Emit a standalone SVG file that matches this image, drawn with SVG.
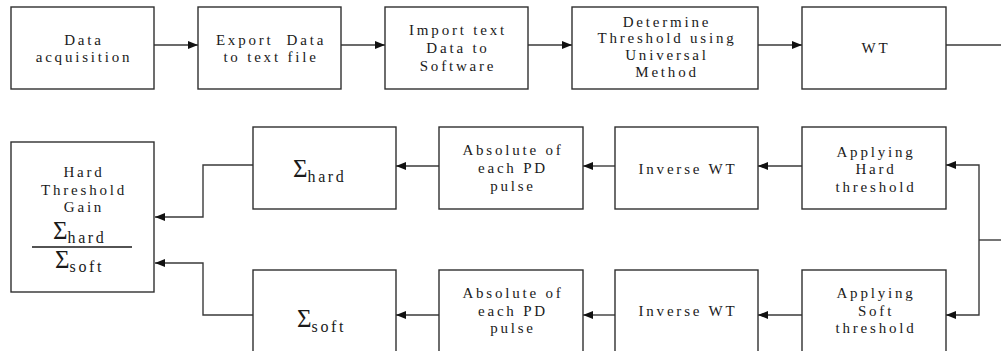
<svg xmlns="http://www.w3.org/2000/svg" width="1001" height="351" viewBox="0 0 1001 351">
  <style>
    .box { fill: #ffffff; stroke: #2f2f2f; stroke-width: 1.4; }
    .lbl { font-family: "Liberation Serif", "Times New Roman", serif; font-size: 15px; letter-spacing: 2.8px; fill: #1a1a1a; text-anchor: middle; white-space: pre; }
    .sig { font-family: "Liberation Serif", "Times New Roman", serif; font-size: 25px; fill: #1a1a1a; }
    .sub { font-family: "Liberation Serif", "Times New Roman", serif; font-size: 16px; letter-spacing: 2.6px; fill: #1a1a1a; }
    .wire { fill: none; stroke: #3a3a3a; stroke-width: 1.4; }
  </style>
  <defs>
    <marker id="arrow" viewBox="0 0 10 8" refX="10" refY="4" markerWidth="10" markerHeight="8" markerUnits="userSpaceOnUse" orient="auto">
      <path d="M0,0 L10,4 L0,8 Z" fill="#111111"/>
    </marker>
  </defs>
  <rect width="1001" height="351" fill="#ffffff"/>

  <!-- connectors -->
  <g id="connectors">
    <line class="wire" x1="154" y1="45" x2="198" y2="45" marker-end="url(#arrow)"/>
    <line class="wire" x1="341" y1="45" x2="385" y2="45" marker-end="url(#arrow)"/>
    <line class="wire" x1="528" y1="45" x2="572" y2="45" marker-end="url(#arrow)"/>
    <line class="wire" x1="758" y1="45" x2="802" y2="45" marker-end="url(#arrow)"/>
    <line class="wire" x1="946" y1="45" x2="1001" y2="45"/>

    <line class="wire" x1="1001" y1="240" x2="979" y2="240"/>
    <polyline class="wire" points="979,240 979,165 946,165" marker-end="url(#arrow)"/>
    <polyline class="wire" points="979,240 979,315 946,315" marker-end="url(#arrow)"/>

    <line class="wire" x1="802" y1="166" x2="758" y2="166" marker-end="url(#arrow)"/>
    <line class="wire" x1="615" y1="166" x2="583" y2="166" marker-end="url(#arrow)"/>
    <line class="wire" x1="439" y1="166" x2="396" y2="166" marker-end="url(#arrow)"/>
    <line class="wire" x1="802" y1="315" x2="758" y2="315" marker-end="url(#arrow)"/>
    <line class="wire" x1="615" y1="315" x2="583" y2="315" marker-end="url(#arrow)"/>
    <line class="wire" x1="439" y1="315" x2="396" y2="315" marker-end="url(#arrow)"/>

    <polyline class="wire" points="253,165 203,165 203,217 155,217" marker-end="url(#arrow)"/>
    <polyline class="wire" points="253,315 203,315 203,263 155,263" marker-end="url(#arrow)"/>
  </g>

  <!-- top row -->
  <g id="data-acquisition">
    <rect class="box" x="11" y="7" width="143" height="82"/>
    <text class="lbl" x="84" y="45">Data</text>
    <text class="lbl" x="84" y="62">acquisition</text>
  </g>
  <g id="export-data">
    <rect class="box" x="198" y="7" width="143" height="82"/>
    <text class="lbl" x="271" y="45">Export  Data</text>
    <text class="lbl" x="271" y="62">to text file</text>
  </g>
  <g id="import-data">
    <rect class="box" x="385" y="7" width="143" height="82"/>
    <text class="lbl" x="458" y="35">Import text</text>
    <text class="lbl" x="458" y="53">Data to</text>
    <text class="lbl" x="458" y="71">Software</text>
  </g>
  <g id="determine-threshold">
    <rect class="box" x="572" y="7" width="186" height="82"/>
    <text class="lbl" x="667" y="27">Determine</text>
    <text class="lbl" x="667" y="43">Threshold using</text>
    <text class="lbl" x="667" y="60">Universal</text>
    <text class="lbl" x="667" y="77">Method</text>
  </g>
  <g id="wt">
    <rect class="box" x="802" y="7" width="144" height="82"/>
    <text class="lbl" x="876" y="53">WT</text>
  </g>

  <!-- hard threshold branch -->
  <g id="apply-hard">
    <rect class="box" x="802" y="127" width="144" height="82"/>
    <text class="lbl" x="876" y="157">Applying</text>
    <text class="lbl" x="876" y="174">Hard</text>
    <text class="lbl" x="876" y="192">threshold</text>
  </g>
  <g id="inverse-hard">
    <rect class="box" x="615" y="127" width="143" height="82"/>
    <text class="lbl" x="688" y="174">Inverse WT</text>
  </g>
  <g id="absolute-hard">
    <rect class="box" x="439" y="127" width="144" height="82"/>
    <text class="lbl" x="513" y="155">Absolute of</text>
    <text class="lbl" x="513" y="173">each PD</text>
    <text class="lbl" x="513" y="191">pulse</text>
  </g>
  <g id="sum-hard">
    <rect class="box" x="253" y="127" width="143" height="82"/>
    <text x="293" y="177"><tspan class="sig">Σ</tspan><tspan class="sub" dy="5">hard</tspan></text>
  </g>

  <!-- soft threshold branch -->
  <g id="apply-soft">
    <rect class="box" x="802" y="270" width="144" height="95"/>
    <text class="lbl" x="876" y="298">Applying</text>
    <text class="lbl" x="876" y="316">Soft</text>
    <text class="lbl" x="876" y="333">threshold</text>
  </g>
  <g id="inverse-soft">
    <rect class="box" x="615" y="270" width="143" height="95"/>
    <text class="lbl" x="688" y="316">Inverse WT</text>
  </g>
  <g id="absolute-soft">
    <rect class="box" x="439" y="270" width="144" height="95"/>
    <text class="lbl" x="513" y="298">Absolute of</text>
    <text class="lbl" x="513" y="316">each PD</text>
    <text class="lbl" x="513" y="333">pulse</text>
  </g>
  <g id="sum-soft">
    <rect class="box" x="253" y="270" width="143" height="95"/>
    <text x="297" y="327"><tspan class="sig">Σ</tspan><tspan class="sub" dy="5">soft</tspan></text>
  </g>

  <!-- gain ratio -->
  <g id="gain">
    <rect class="box" x="11" y="142" width="143" height="150"/>
    <text class="lbl" x="84" y="177">Hard</text>
    <text class="lbl" x="84" y="195">Threshold</text>
    <text class="lbl" x="84" y="212">Gain</text>
    <text x="53" y="239"><tspan class="sig">Σ</tspan><tspan class="sub" dy="4">hard</tspan></text>
    <line x1="32" y1="247" x2="132" y2="247" stroke="#1a1a1a" stroke-width="1.3"/>
    <text x="55" y="268"><tspan class="sig">Σ</tspan><tspan class="sub" dy="4">soft</tspan></text>
  </g>
</svg>
